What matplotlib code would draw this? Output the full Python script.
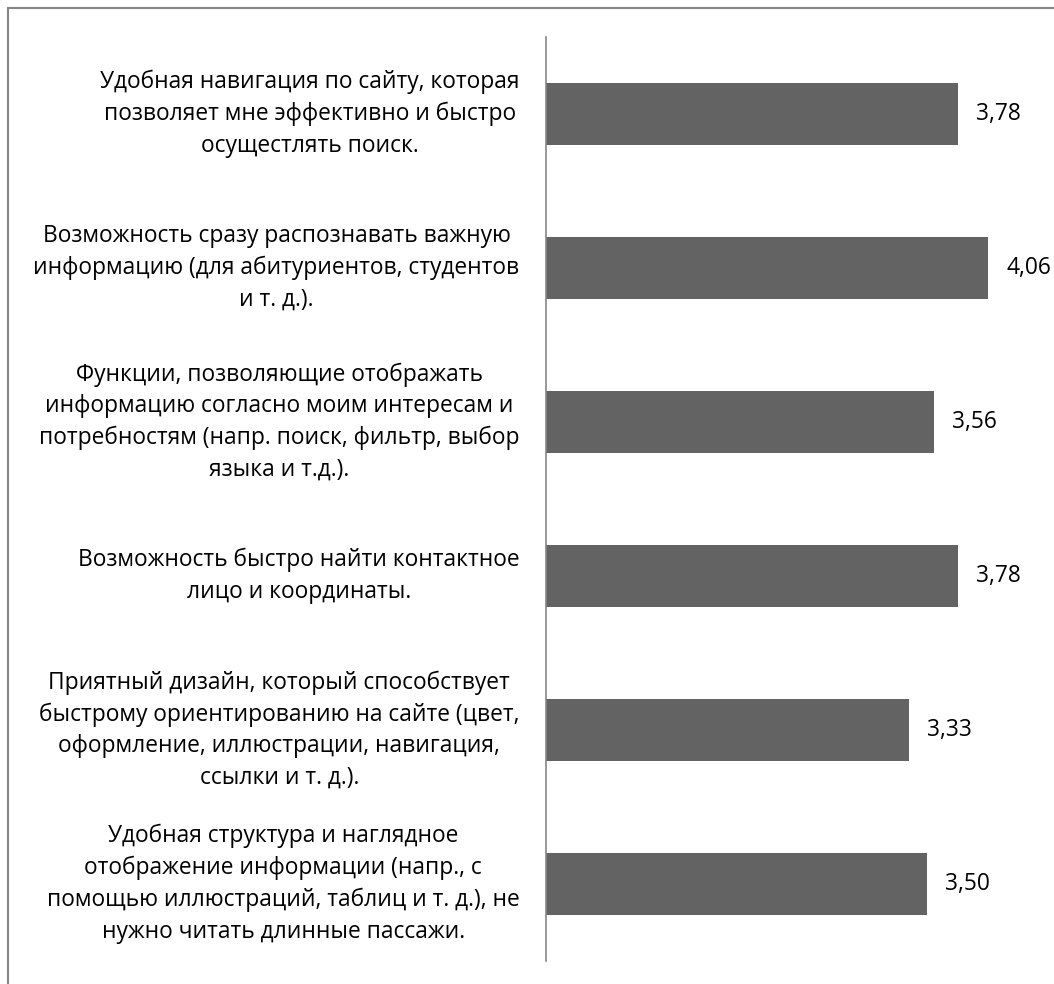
import matplotlib.pyplot as plt
from matplotlib.patches import Rectangle
import numpy as np

categories = [
    'Удобная навигация по сайту, которая\nпозволяет мне эффективно и быстро\nосущестлять поиск.',
    'Возможность сразу распознавать важную\nинформацию (для абитуриентов, студентов\nи т. д.).',
    'Функции, позволяющие отображать\nинформацию согласно моим интересам и\nпотребностям (напр. поиск, фильтр, выбор\nязыка и т.д.).',
    'Возможность быстро найти контактное\nлицо и координаты.',
    'Приятный дизайн, который способствует\nбыстрому ориентированию на сайте (цвет,\nоформление, иллюстрации, навигация,\nссылки и т. д.).',
    'Удобная структура и наглядное\nотображение информации (напр., с\nпомощью иллюстраций, таблиц и т. д.), не\nнужно читать длинные пассажи.',
]
values = [3.78, 4.06, 3.56, 3.78, 3.33, 3.50]

BAR_COLOR = '#636363'
AXIS_COLOR = '#868686'
FONT = ['Open Sans', 'DejaVu Sans']

plt.rcParams['font.family'] = FONT

fig = plt.figure(figsize=(10.54, 9.84), dpi=100)
ax = fig.add_axes([546 / 1054, 23 / 984, 501 / 1054, 924 / 984])

y = np.arange(len(categories))
bars = ax.barh(y, values, height=0.4, color=BAR_COLOR)

ax.set_ylim(len(categories) - 0.5, -0.5)
ax.set_xlim(0, 4.6)

ax.set_yticks(y, categories, fontsize=16.4, multialignment='center', linespacing=1.42)
for lbl in ax.get_yticklabels():
    lbl.set_va('center')
ax.tick_params(axis='y', length=0, pad=19)
ax.set_xticks([])

for side in ['top', 'right', 'bottom']:
    ax.spines[side].set_visible(False)
ax.spines['left'].set_color(AXIS_COLOR)
ax.spines['left'].set_linewidth(1.2)

labels = [f'{v:.2f}'.replace('.', ',') for v in values]
ax.bar_label(bars, labels=labels, padding=13, fontsize=16.4)

# outer chart border (right and bottom edges fall outside the picture)
fig.patches.append(Rectangle((7.5 / 1054, -0.1), 1.2, (984 - 7.5) / 984 + 0.1,
                             transform=fig.transFigure, fill=False,
                             edgecolor=AXIS_COLOR, linewidth=1.5))

plt.savefig('out.png', dpi=100)
